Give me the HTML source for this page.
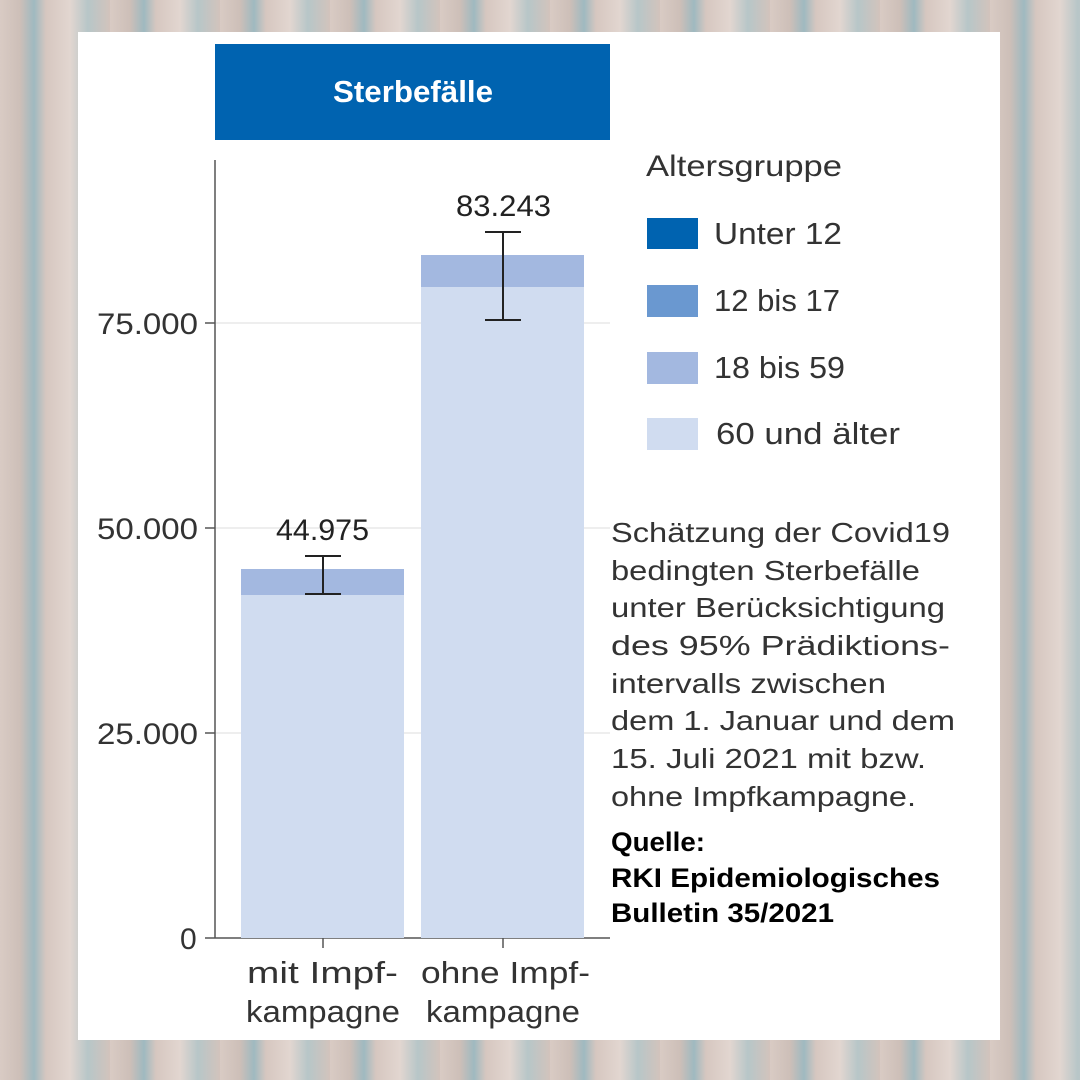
<!DOCTYPE html>
<html><head><meta charset="utf-8"><style>
body{margin:0;width:1080px;height:1080px;overflow:hidden;position:relative;
background:repeating-linear-gradient(90deg,#d9cbc4 0px,#cdbfb8 20px,#9fb9c0 34px,#d6c7c0 46px,#e2d6d0 70px,#b7c6c8 88px,#d2c3bc 110px);}
.p{position:absolute;left:78px;top:32px;width:922px;height:1008px;background:#fff;}
</style></head><body>
<div class="p"></div>
<svg width="1080" height="1080" style="position:absolute;left:0;top:0" font-family="Liberation Sans, DejaVu Sans, sans-serif">
<rect x="215" y="44" width="395" height="96" fill="#0063b0"/>
<text x="333" y="102" fill="#fff" font-size="31" font-weight="bold" textLength="160" lengthAdjust="spacingAndGlyphs">Sterbefälle</text>
<g stroke="#e8e8e8" stroke-width="1.5">
<line x1="215" y1="323" x2="610" y2="323"/><line x1="215" y1="528" x2="610" y2="528"/><line x1="215" y1="733" x2="610" y2="733"/>
</g>
<line x1="215" y1="160" x2="215" y2="938" stroke="#555" stroke-width="1.5"/>
<line x1="205" y1="938" x2="610" y2="938" stroke="#555" stroke-width="1.5"/>
<g stroke="#555" stroke-width="1.5"><line x1="205" y1="323" x2="215" y2="323"/><line x1="205" y1="528" x2="215" y2="528"/><line x1="205" y1="733" x2="215" y2="733"/><line x1="323" y1="938" x2="323" y2="948"/><line x1="503" y1="938" x2="503" y2="948"/></g>
<g font-size="30" fill="#333">
<text x="97" y="334" textLength="101" lengthAdjust="spacingAndGlyphs">75.000</text><text x="97" y="539" textLength="101" lengthAdjust="spacingAndGlyphs">50.000</text><text x="97" y="744" textLength="101" lengthAdjust="spacingAndGlyphs">25.000</text><text x="180" y="949">0</text>
</g>
<rect x="241" y="595" width="163" height="343" fill="#d0dcf0"/>
<rect x="241" y="569" width="163" height="26" fill="#a3b8e0"/>
<rect x="421" y="287" width="163" height="651" fill="#d0dcf0"/>
<rect x="421" y="255" width="163" height="32" fill="#a3b8e0"/>
<g stroke="#222" stroke-width="2">
<line x1="323" y1="556" x2="323" y2="594"/><line x1="305" y1="556" x2="341" y2="556"/><line x1="305" y1="594" x2="341" y2="594"/>
<line x1="503" y1="232" x2="503" y2="320"/><line x1="485" y1="232" x2="521" y2="232"/><line x1="485" y1="320" x2="521" y2="320"/>
</g>
<g font-size="30" fill="#222">
<text x="276" y="540" textLength="93" lengthAdjust="spacingAndGlyphs">44.975</text><text x="456" y="216" textLength="95" lengthAdjust="spacingAndGlyphs">83.243</text>
</g>
<g font-size="31" fill="#333">
<text x="247" y="983" textLength="151" lengthAdjust="spacingAndGlyphs">mit Impf-</text><text x="246" y="1022" textLength="154" lengthAdjust="spacingAndGlyphs">kampagne</text>
<text x="421" y="983" textLength="169" lengthAdjust="spacingAndGlyphs">ohne Impf-</text><text x="426" y="1022" textLength="154" lengthAdjust="spacingAndGlyphs">kampagne</text>
</g>
<text x="646" y="176" font-size="30" fill="#333" textLength="196" lengthAdjust="spacingAndGlyphs">Altersgruppe</text>
<rect x="647" y="218" width="51" height="31" fill="#0063b0"/>
<rect x="647" y="285" width="51" height="32" fill="#6a98d0"/>
<rect x="647" y="352" width="51" height="32" fill="#a3b8e0"/>
<rect x="647" y="418" width="51" height="32" fill="#d0dcf0"/>
<g font-size="31" fill="#333">
<text x="714" y="244" textLength="128" lengthAdjust="spacingAndGlyphs">Unter 12</text><text x="714" y="311" textLength="126" lengthAdjust="spacingAndGlyphs">12 bis 17</text><text x="714" y="378" textLength="131" lengthAdjust="spacingAndGlyphs">18 bis 59</text><text x="716" y="444" textLength="184" lengthAdjust="spacingAndGlyphs">60 und älter</text>
</g>
<g font-size="28" fill="#333">
<text x="611" y="542" textLength="339" lengthAdjust="spacingAndGlyphs">Schätzung der Covid19</text>
<text x="611" y="580" textLength="309" lengthAdjust="spacingAndGlyphs">bedingten Sterbefälle</text>
<text x="611" y="617" textLength="334" lengthAdjust="spacingAndGlyphs">unter Berücksichtigung</text>
<text x="611" y="655" textLength="339" lengthAdjust="spacingAndGlyphs">des 95% Prädiktions-</text>
<text x="611" y="693" textLength="275" lengthAdjust="spacingAndGlyphs">intervalls zwischen</text>
<text x="611" y="730" textLength="344" lengthAdjust="spacingAndGlyphs">dem 1. Januar und dem</text>
<text x="611" y="768" textLength="315" lengthAdjust="spacingAndGlyphs">15. Juli 2021 mit bzw.</text>
<text x="611" y="806" textLength="305" lengthAdjust="spacingAndGlyphs">ohne Impfkampagne.</text>
</g>
<g font-size="27" fill="#000" font-weight="bold">
<text x="611" y="851" textLength="94" lengthAdjust="spacingAndGlyphs">Quelle:</text>
<text x="611" y="887" textLength="329" lengthAdjust="spacingAndGlyphs">RKI Epidemiologisches</text>
<text x="611" y="922" textLength="223" lengthAdjust="spacingAndGlyphs">Bulletin 35/2021</text>
</g>
</svg>
</body></html>
